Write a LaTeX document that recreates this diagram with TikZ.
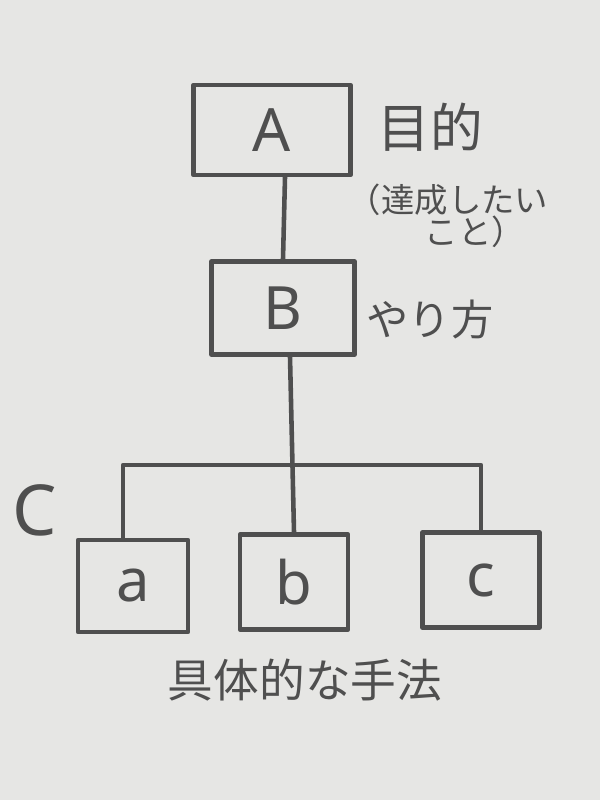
\documentclass[tikz,border=0pt]{standalone}
\usepackage{fontspec}
\newfontfamily\jpfont{Noto Sans CJK JP}
\setsansfont{Noto Sans}
\definecolor{board}{HTML}{E6E6E4}
\definecolor{marker}{HTML}{4F4F4F}
\tikzset{
  pen/.style={draw=marker, line width=2.6pt, line cap=round, line join=round},
  box/.style={pen, rectangle, font=\sffamily\fontsize{34}{34}\selectfont, text=marker},
  note/.style={text=marker, font=\jpfont\fontsize{24}{28}\selectfont, inner sep=0pt},
  small/.style={note, font=\jpfont\fontsize{19}{20}\selectfont}
}
\begin{document}
\begin{tikzpicture}
        \fill[board](0, 0) rectangle(12, 16);
        \node[box, minimum width=3.14cm, minimum height=1.8cm](A)at(5.44, 13.4){A};
        \node[box, minimum width=2.86cm, minimum height=1.86cm](B)at(5.66, 9.84){B};
        \node[box, minimum width=2.2cm, minimum height=1.84cm](a)at(2.66, 4.28){a};
        \node[box, minimum width=2.16cm, minimum height=1.9cm](b)at(5.88, 4.36){b};
        \node[box, minimum width=2.34cm, minimum height=1.9cm](c)at(9.62, 4.4){c};
        \coordinate(bar)at(0, 6.7);
        \draw[pen]([xshift=0.26cm]A.south)--(B.north);
        \draw[pen]([xshift=0.14cm]B.south)--(b.north);
        \draw[pen]([xshift=-0.2cm]a.north)--([xshift=-0.2cm]a.north|-bar)--(c.north|-bar)--(c.north);
        \node[note, font=\sffamily\fontsize{40}{40}\selectfont](C)at(0.7, 5.8){C};
        \node[note, font=\jpfont\fontsize{30}{30}\selectfont](goal)at(8.6, 13.45){目的};
        \node[small, anchor=west](goal1)at(6.95, 12.0){（達成したい};
        \node[small](goal2)at(9.5, 11.36){こと）};
        \node[note](way)at(8.6, 9.6){やり方};
        \node[note, font=\jpfont\fontsize{26}{28}\selectfont](means)at(6.1, 2.4){具体的な手法};
    \end{tikzpicture}
\end{document}
